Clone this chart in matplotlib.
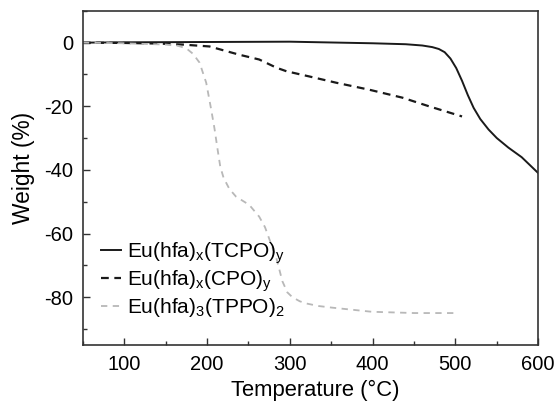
import matplotlib
matplotlib.use("Agg")
import matplotlib.pyplot as plt
from matplotlib.ticker import MultipleLocator

plt.rcParams["font.family"] = ["Liberation Sans", "DejaVu Sans"]
plt.rcParams["axes.unicode_minus"] = False

# TGA curves: temperature (°C) vs weight change (%)
tcpo_t = [50, 100, 200, 300, 400, 440, 460, 472, 480, 487, 494, 501, 508, 515, 522,
          530, 540, 550, 564, 580, 600]
tcpo_w = [0.0, 0.1, 0.2, 0.3, -0.2, -0.5, -0.9, -1.4, -2.0, -3.0, -5.0, -8.0, -12.0,
          -16.5, -20.5, -24.0, -27.3, -30.0, -33.0, -36.0, -41.0]

cpo_t = [50, 100, 143, 170, 203, 239, 263, 284, 296, 323, 356, 396, 436, 468, 508]
cpo_w = [0.0, -0.1, -0.3, -0.6, -1.2, -3.8, -5.3, -7.9, -9.0, -10.6, -12.6, -14.8,
         -17.3, -20.0, -23.2]

tppo_t = [50, 100, 150, 165, 175, 183, 191, 199, 205, 209, 213, 216, 220, 227, 235,
          251, 263, 270, 277, 284, 291, 297, 303, 312, 320, 335, 351, 399, 450, 500]
tppo_w = [0.0, -0.2, -0.6, -1.0, -1.8, -3.5, -6.3, -12.6, -21.0, -27.0, -34.0, -39.0,
          -42.5, -46.0, -48.4, -51.0, -54.7, -58.0, -63.0, -68.0, -75.0, -78.5, -80.0,
          -81.3, -82.0, -82.8, -83.3, -84.6, -85.0, -85.0]

labels = [r"Eu(hfa)$_\mathregular{x}$(TCPO)$_\mathregular{y}$",
          r"Eu(hfa)$_\mathregular{x}$(CPO)$_\mathregular{y}$",
          r"Eu(hfa)$_\mathregular{3}$(TPPO)$_\mathregular{2}$"]


def main():
    fig, ax = plt.subplots(figsize=(5.56, 4.01), dpi=100)
    fig.subplots_adjust(left=0.149, right=0.968, top=0.973, bottom=0.14)

    ax.plot(tcpo_t, tcpo_w, color="#1a1a1a", lw=1.4, label=labels[0])
    ax.plot(cpo_t, cpo_w, color="#1a1a1a", lw=1.6, dashes=(3.5, 2.5), label=labels[1])
    ax.plot(tppo_t, tppo_w, color="#b8b8b8", lw=1.3, dashes=(3.5, 3), label=labels[2])

    ax.set_xlim(50, 600)
    ax.set_ylim(-95, 10)
    ax.xaxis.set_major_locator(MultipleLocator(100))
    ax.xaxis.set_minor_locator(MultipleLocator(50))
    ax.yaxis.set_major_locator(MultipleLocator(20))
    ax.yaxis.set_minor_locator(MultipleLocator(10))
    ax.tick_params(which="both", direction="in", labelsize=14.5, color="#333333")
    ax.tick_params(which="major", length=5, width=1, pad=7)
    ax.tick_params(which="minor", length=3, width=1)
    for s in ax.spines.values():
        s.set_color("#333333")
        s.set_linewidth(1.2)

    ax.set_xlabel("Temperature (°C)", fontsize=15.8)
    ax.set_ylabel("Weight (%)", fontsize=16.4)
    ax.xaxis.set_label_coords(0.51, -0.105)
    ax.yaxis.set_label_coords(-0.105, 0.53)

    ax.legend(loc="center left", bbox_to_anchor=(0.04, 0.195), frameon=False, fontsize=15,
              handlelength=0.95, handletextpad=0.3, labelspacing=0.1, borderaxespad=0,
              borderpad=0)

    fig.savefig("out.png", dpi=100)


if __name__ == "__main__":
    main()
